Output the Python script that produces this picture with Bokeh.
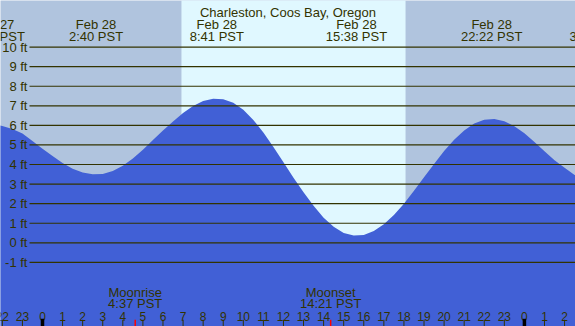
from bokeh.plotting import figure
from bokeh.models import Range1d
from bokeh.core.properties import value
from bokeh.embed import file_html
from bokeh.resources import INLINE

# ---------------- data (hours relative to Feb 28 00:00 PST) ----------------
title = "Charleston, Coos Bay, Oregon"

tide_time = [-3.0, -2.5, -2.0, -1.5, -1.0, -0.5, 0.0, 0.5, 1.0, 1.5,
             2.0, 2.5, 3.0, 3.5, 4.0, 4.5, 5.0, 5.5, 6.0, 6.5,
             7.0, 7.5, 8.0, 8.5, 9.0, 9.5, 10.0, 10.5, 11.0, 11.5,
             12.0, 12.5, 13.0, 13.5, 14.0, 14.5, 15.0, 15.5, 16.0, 16.5,
             17.0, 17.5, 18.0, 18.5, 19.0, 19.5, 20.0, 20.5, 21.0, 21.5,
             22.0, 22.5, 23.0, 23.5, 24.0, 24.5, 25.0, 25.5, 26.0, 26.5, 27.0]
tide_ft = [6.03, 6.05, 5.97, 5.82, 5.58, 5.20, 4.80, 4.43, 4.08, 3.79,
           3.59, 3.50, 3.52, 3.67, 3.94, 4.31, 4.76, 5.25, 5.74, 6.20,
           6.63, 6.99, 7.24, 7.36, 7.34, 7.15, 6.80, 6.28, 5.63, 4.90,
           4.12, 3.33, 2.58, 1.89, 1.28, 0.82, 0.50, 0.37, 0.40, 0.60,
           0.95, 1.42, 2.00, 2.66, 3.35, 4.03, 4.69, 5.27, 5.74, 6.09,
           6.29, 6.32, 6.21, 5.96, 5.60, 5.15, 4.68, 4.22, 3.83, 3.47, 3.25]

sunrise = 6.92
sunset = 18.08

extreme_time = [-2.41, 2.667, 8.683, 15.633, 22.367, 27.6]
extreme_date = ["Feb 27", "Feb 28", "Feb 28", "Feb 28", "Feb 28", "Mar 1"]
extreme_clock = ["21:35 PST", "2:40 PST", "8:41 PST", "15:38 PST", "22:22 PST", "3:36 PST"]

moon_time = [4.617, 14.35]
moon_event = ["Moonrise", "Moonset"]
moon_clock = ["4:37 PST", "14:21 PST"]

level_ticks = [-1, 0, 1, 2, 3, 4, 5, 6, 7, 8, 9, 10]
level_labels = ["-1 ft", "0 ft", "1 ft", "2 ft", "3 ft", "4 ft", "5 ft",
                "6 ft", "7 ft", "8 ft", "9 ft", "10 ft"]

hour_ticks = list(range(-3, 28))
hour_labels = [str(h % 24) for h in hour_ticks]
midnight_ticks = [h for h in hour_ticks if h % 24 == 0]

# ---------------- styling ----------------
X0, X1 = -2.092, 26.544
Y0, Y1 = -4.277, 12.381
NIGHT = "#B0C4DE"
DAY = "#E0F8FF"
WATER = "#4160D6"
INK = "#333300"
FONT = value("Liberation Sans")
FS = "13px"


def ypx(y_ref):
    # convert a pixel row of the chart into feet
    return (242.3 - y_ref) / 19.57


p = figure(width=575, height=326, x_range=Range1d(X0, X1), y_range=Range1d(Y0, Y1),
           output_backend="svg", toolbar_location=None, min_border=0,
           background_fill_color=NIGHT, border_fill_color=NIGHT)
p.axis.visible = False
p.grid.visible = False
p.outline_line_color = None

# daylight band
p.quad(left=[sunrise], right=[sunset], bottom=[Y0 - 1], top=[Y1 + 1],
       fill_color=DAY, line_color=None)

# tide area
p.varea(x=tide_time, y1=[Y0 - 1] * len(tide_time), y2=tide_ft, fill_color=WATER)

# level lines
p.segment(x0=[-0.647] * len(level_ticks), x1=[X1 + 1] * len(level_ticks),
          y0=level_ticks, y1=level_ticks, line_color=INK, line_width=1.2)

# level labels
p.text(x=[-0.75] * len(level_ticks), y=level_ticks, text=level_labels,
       text_align="right", text_baseline="middle", text_font=FONT,
       text_font_size=FS, text_color=INK)

# title
p.text(x=[(X0 + X1) / 2], y=[ypx(12.3)], text=[title], text_align="center",
       text_baseline="alphabetic", text_font=FONT, text_font_size=FS, text_color=INK)

# high/low labels
p.text(x=extreme_time, y=[ypx(24)] * len(extreme_time), text=extreme_date,
       text_align="center", text_baseline="alphabetic", text_font=FONT,
       text_font_size=FS, text_color=INK)
p.text(x=extreme_time, y=[ypx(36)] * len(extreme_time), text=extreme_clock,
       text_align="center", text_baseline="alphabetic", text_font=FONT,
       text_font_size=FS, text_color=INK)

# moon labels
p.text(x=moon_time, y=[ypx(292)] * len(moon_time), text=moon_event,
       text_align="center", text_baseline="alphabetic", text_font=FONT,
       text_font_size=FS, text_color=INK)
p.text(x=moon_time, y=[ypx(303.3)] * len(moon_time), text=moon_clock,
       text_align="center", text_baseline="alphabetic", text_font=FONT,
       text_font_size=FS, text_color=INK)

# hour labels and ticks
p.text(x=hour_ticks, y=[ypx(316.5)] * len(hour_ticks), text=hour_labels,
       text_align="center", text_baseline="alphabetic", text_font=FONT,
       text_font_size="12px", text_color=INK)
p.segment(x0=hour_ticks, x1=hour_ticks, y0=[ypx(319.3)] * len(hour_ticks),
          y1=[Y0 - 1] * len(hour_ticks), line_color=INK, line_width=1)
p.segment(x0=midnight_ticks, x1=midnight_ticks, y0=[ypx(318.3)] * len(midnight_ticks),
          y1=[Y0 - 1] * len(midnight_ticks), line_color="#000000", line_width=3.5)
p.segment(x0=moon_time, x1=moon_time, y0=[ypx(319.3)] * len(moon_time),
          y1=[Y0 - 1] * len(moon_time), line_color="#FF0000", line_width=1.5)

open("out.html", "w").write(file_html(p, INLINE))
